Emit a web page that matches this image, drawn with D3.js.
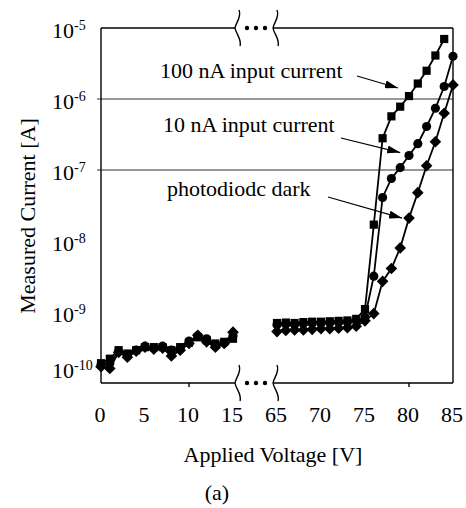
<!DOCTYPE html>
<html>
<head>
<meta charset="utf-8">
<script src="https://cdnjs.cloudflare.com/ajax/libs/d3/7.8.5/d3.min.js"></script>
<style>
  body { margin: 0; background: #fff; }
  text { font-family: "Liberation Serif", "Times New Roman", serif; fill: #000; }
</style>
</head>
<body>
<svg id="chart" width="466" height="508"></svg>
<script>
// voltages on each side of the axis break
var lowVolts  = [0, 1, 2, 3, 4, 5, 6, 7, 8, 9, 10, 11, 12, 13, 14, 15];
var highVolts = [65, 66, 67, 68, 69, 70, 71, 72, 73, 74, 75, 76, 77, 78, 79, 80, 81, 82, 83, 84, 85];

// 100 nA input current (squares)
var sqLow  = [1.9e-10, 2.2e-10, 2.9e-10, 2.6e-10, 2.9e-10, 3.2e-10, 3.2e-10, 3.2e-10, 2.9e-10, 3.2e-10, 3.7e-10, 4.4e-10, 4.0e-10, 3.6e-10, 3.8e-10, 4.2e-10];
var sqHigh = [7.0e-10, 7.1e-10, 7.0e-10, 7.2e-10, 7.3e-10, 7.3e-10, 7.4e-10, 7.5e-10, 7.6e-10, 8.0e-10,
              1.1e-9, 1.7e-8, 2.8e-7, 5.7e-7, 7.8e-7, 1.1e-6, 1.65e-6, 2.5e-6, 4.1e-6, 7.0e-6];
// 10 nA input current (circles)
var ciLow  = [1.8e-10, 1.9e-10, 2.8e-10, 2.5e-10, 2.9e-10, 3.3e-10, 3.1e-10, 3.3e-10, 2.9e-10, 3.1e-10, 3.9e-10, 4.6e-10, 4.2e-10, 3.4e-10, 3.7e-10, 4.6e-10];
var ciHigh = [6.6e-10, 6.8e-10, 6.7e-10, 6.9e-10, 7.0e-10, 7.0e-10, 7.1e-10, 7.2e-10, 7.3e-10, 7.5e-10,
              8.5e-10, 3.2e-9, 4.1e-8, 7.6e-8, 1.08e-7, 1.6e-7, 2.35e-7, 4.1e-7, 7.4e-7, 1.5e-6, 4.0e-6];
// photodiode dark (diamonds)
var diLow  = [1.7e-10, 1.6e-10, 2.7e-10, 2.3e-10, 2.8e-10, 3.2e-10, 3.0e-10, 3.1e-10, 2.4e-10, 2.9e-10, 3.6e-10, 4.7e-10, 3.8e-10, 3.2e-10, 3.6e-10, 5.2e-10];
var diHigh = [5.3e-10, 5.5e-10, 5.6e-10, 5.6e-10, 5.7e-10, 5.8e-10, 5.8e-10, 5.9e-10, 6.0e-10, 6.3e-10,
              7.5e-10, 9.5e-10, 2.7e-9, 4.1e-9, 8.0e-9, 2.1e-8, 4.8e-8, 1.15e-7, 2.5e-7, 6.3e-7, 1.58e-6];

var lowTicks  = [0, 5, 10, 15];
var highTicks = [65, 70, 75, 80, 85];
var yExps     = [-5, -6, -7, -8, -9, -10];
var gridExps  = [-6, -7];

var notes = [
  { text: "100 nA input current", v: 78.75, i: 1.43e-6 },
  { text: "10 nA input current",  v: 79,    i: 1.76e-7 },
  { text: "photodiodc dark",      v: 79.2,  i: 2.1e-8 }
];

var svg = d3.select("#chart");
svg.append("rect").attr("width", 466).attr("height", 508).attr("fill", "#fff");

var pLeft = 101, pRight = 453, pTop = 28, pBottom = 383;
var xLow  = d3.scaleLinear().domain([0, 15]).range([pLeft, 233]);
var xHigh = d3.scaleLinear().domain([65, 85]).range([277, pRight]);
var y = d3.scaleLog().domain([1e-10, 1e-5]).range([pBottom, pTop]);

function xv(v) { return v <= 15 ? xLow(v) : xHigh(v); }

// grid lines
svg.selectAll("line.grid").data(gridExps).enter().append("line")
  .attr("x1", pLeft - 4).attr("x2", pRight)
  .attr("y1", function(d) { return y(Math.pow(10, d)); })
  .attr("y2", function(d) { return y(Math.pow(10, d)); })
  .style("stroke", "#333").style("stroke-width", "1px");

// frame, with the break on top and bottom
var frame = svg.append("g").style("stroke", "#000").style("stroke-width", "1.4px").style("fill", "none");
frame.append("line").attr("x1", pLeft).attr("x2", pLeft).attr("y1", pTop).attr("y2", pBottom);
frame.append("line").attr("x1", pRight).attr("x2", pRight).attr("y1", pTop).attr("y2", pBottom);
[pTop, pBottom].forEach(function(yy) {
  frame.append("line").attr("x1", pLeft).attr("x2", 235).attr("y1", yy).attr("y2", yy);
  frame.append("line").attr("x1", 273).attr("x2", pRight).attr("y1", yy).attr("y2", yy);
  [235, 273].forEach(function(bx) {
    frame.append("path")
      .attr("d", "M" + (bx + 4) + "," + (yy - 18) + " C" + (bx + 7) + "," + (yy - 11) + " " + (bx + 1) + "," + (yy - 6) + " " + bx + "," + yy +
                 " C" + (bx + 1) + "," + (yy + 6) + " " + (bx + 7) + "," + (yy + 11) + " " + (bx + 5) + "," + (yy + 18));
  });
  [247, 256, 265].forEach(function(dx) {
    svg.append("circle").attr("cx", dx).attr("cy", yy).attr("r", 2.2).attr("fill", "#000");
  });
});

// x ticks that show in the picture
[xLow(10), xHigh(80)].forEach(function(tx) {
  frame.append("line").attr("x1", tx).attr("x2", tx).attr("y1", pBottom).attr("y2", pBottom + 4);
});

// x tick labels
svg.selectAll("text.xl").data(lowTicks.concat(highTicks)).enter().append("text")
  .attr("x", function(d) { return xv(d) - 1; })
  .attr("y", 422)
  .attr("text-anchor", "middle")
  .style("font-size", "22px")
  .text(function(d) { return d; });

// y tick labels, 10 with superscript exponent
var yl = svg.selectAll("text.yl").data(yExps).enter().append("text")
  .attr("x", 52)
  .attr("y", function(d) { return d === -10 ? y(Math.pow(10, d)) - 5 : y(Math.pow(10, d)) + 10; })
  .style("font-size", "22px");
yl.append("tspan").text("10");
yl.append("tspan").attr("dy", -8).style("font-size", "14px").text(function(d) { return "-" + (-d); });

// axis titles
svg.append("text").attr("x", 273).attr("y", 462).attr("text-anchor", "middle")
  .style("font-size", "22px").text("Applied Voltage [V]");
svg.append("text").attr("transform", "translate(35,216) rotate(-90)").attr("text-anchor", "middle")
  .style("font-size", "22px").text("Measured Current [A]");
svg.append("text").attr("x", 217).attr("y", 500).attr("text-anchor", "middle")
  .style("font-size", "22px").text("(a)");

// series
var line = d3.line().x(function(d) { return xv(d.v); }).y(function(d) { return y(d.i); });

function pairs(volts, vals) {
  return vals.map(function(val, k) { return { v: volts[k], i: val }; });
}

var series = [
  { shape: "square",  parts: [pairs(lowVolts, sqLow), pairs(highVolts, sqHigh)] },
  { shape: "circle",  parts: [pairs(lowVolts, ciLow), pairs(highVolts, ciHigh)] },
  { shape: "diamond", parts: [pairs(lowVolts, diLow), pairs(highVolts, diHigh)] }
];

series.forEach(function(s) {
  s.parts.forEach(function(pts) {
    svg.append("path").attr("d", line(pts))
      .style("stroke", "#000").style("stroke-width", "1.8px").style("fill", "none");
  });
});

function markerPath(shape) {
  if (shape === "square") return "M-4.1,-4.1H4.1V4.1H-4.1Z";
  if (shape === "diamond") return "M0,-5.8L5.8,0L0,5.8L-5.8,0Z";
  return d3.symbol().type(d3.symbolCircle).size(66)();
}

series.forEach(function(s) {
  s.parts.forEach(function(pts) {
    svg.selectAll(null).data(pts).enter().append("path")
      .attr("d", markerPath(s.shape))
      .attr("transform", function(d) { return "translate(" + xv(d.v) + "," + y(d.i) + ")"; })
      .attr("fill", "#000");
  });
});

// annotations with arrows
svg.append("defs").append("marker")
  .attr("id", "head").attr("markerUnits", "userSpaceOnUse")
  .attr("markerWidth", 13).attr("markerHeight", 8)
  .attr("refX", 13).attr("refY", 4).attr("orient", "auto")
  .append("path").attr("d", "M0,0L13,4L0,8Z").attr("fill", "#000");

var noteText = [[160, 78], [163, 132], [167, 196]];
var noteTail = [[357, 76], [341, 138], [328, 197]];

notes.forEach(function(n, k) {
  svg.append("text").attr("x", noteText[k][0]).attr("y", noteText[k][1])
    .style("font-size", "22px").text(n.text);
  svg.append("line")
    .attr("x1", noteTail[k][0]).attr("y1", noteTail[k][1])
    .attr("x2", xv(n.v)).attr("y2", y(n.i))
    .style("stroke", "#000").style("stroke-width", "1.2px")
    .attr("marker-end", "url(#head)");
});
</script>
</body>
</html>
